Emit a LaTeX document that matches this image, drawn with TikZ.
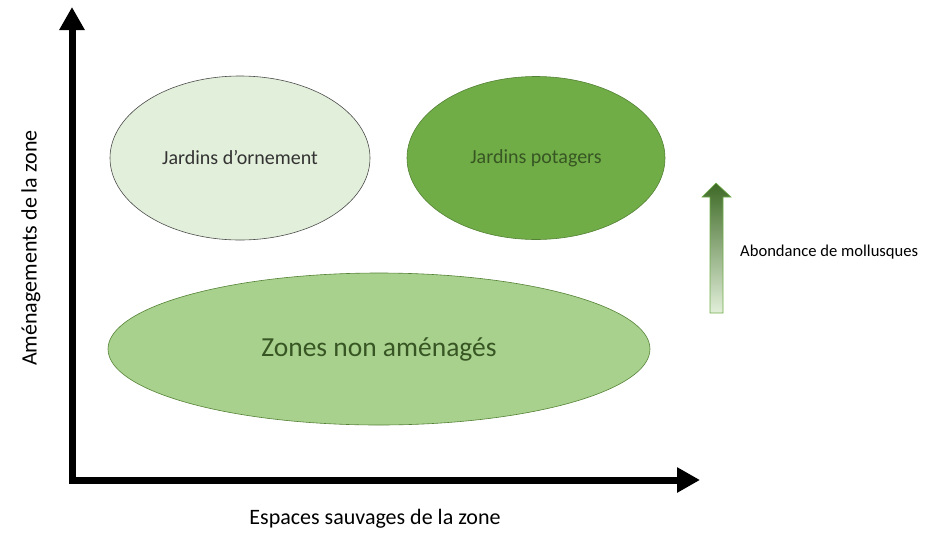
\documentclass[tikz,border=0pt]{standalone}
\usepackage{fontspec}
\setmainfont{Carlito}
\usetikzlibrary{shapes.geometric,arrows.meta}
\definecolor{pale}{HTML}{E2EFDA}
\definecolor{midg}{HTML}{A9D18E}
\definecolor{potg}{HTML}{70AD47}
\definecolor{darkg}{HTML}{375623}
\definecolor{edgeg}{HTML}{548235}
\definecolor{topg}{HTML}{3E6A26}
\tikzset{
  blob/.style={ellipse, inner sep=0pt},
  axis/.style={line width=7pt, line join=miter, {Triangle[length=23pt,width=24pt]}-{Triangle[length=23pt,width=24pt]}},
  lbl/.style={inner sep=0pt, text=black}
}
\begin{document}
\begin{tikzpicture}[x=1pt,y=-1pt]
\useasboundingbox (0,0) rectangle (927,539);
% axes
\coordinate (ytop) at (72,7);
\coordinate (xend) at (700,480);
\draw[axis] (ytop) |- (xend);
\node[lbl, font=\fontsize{22}{26}\selectfont] (xlab) at (375,519) {Espaces sauvages de la zone};
\node[lbl, rotate=90, font=\fontsize{22}{26}\selectfont] (ylab) at (31,248) {Aménagements de la zone};
% ellipses
\node[blob, draw=black!70, line width=0.6pt, fill=pale, minimum width=260pt, minimum height=164pt,
      text=black!80, font=\fontsize{20}{24}\selectfont] (orn) at (240,158) {Jardins d’ornement};
\node[blob, draw=edgeg, line width=0.6pt, fill=potg, minimum width=258pt, minimum height=163pt,
      text=darkg, font=\fontsize{20}{24}\selectfont] (pot) at (536,158) {Jardins potagers};
\node[blob, draw=edgeg, line width=0.6pt, fill=midg, minimum width=542pt, minimum height=152pt,
      text=darkg, font=\fontsize{27.5}{32}\selectfont] (zna) at (379,349) {Zones non aménagés};
% gradient arrow
\shadedraw[draw=potg, line width=0.6pt, top color=topg, middle color=midg, bottom color=pale]
  (710,313) -- (710,197) -- (702,197) -- (716,183) -- (731,197) -- (723,197) -- (723,313) -- cycle;
\node[lbl, anchor=west, font=\fontsize{16.6}{20}\selectfont] (abond) at (740,252) {Abondance de mollusques};
\end{tikzpicture}
\end{document}
